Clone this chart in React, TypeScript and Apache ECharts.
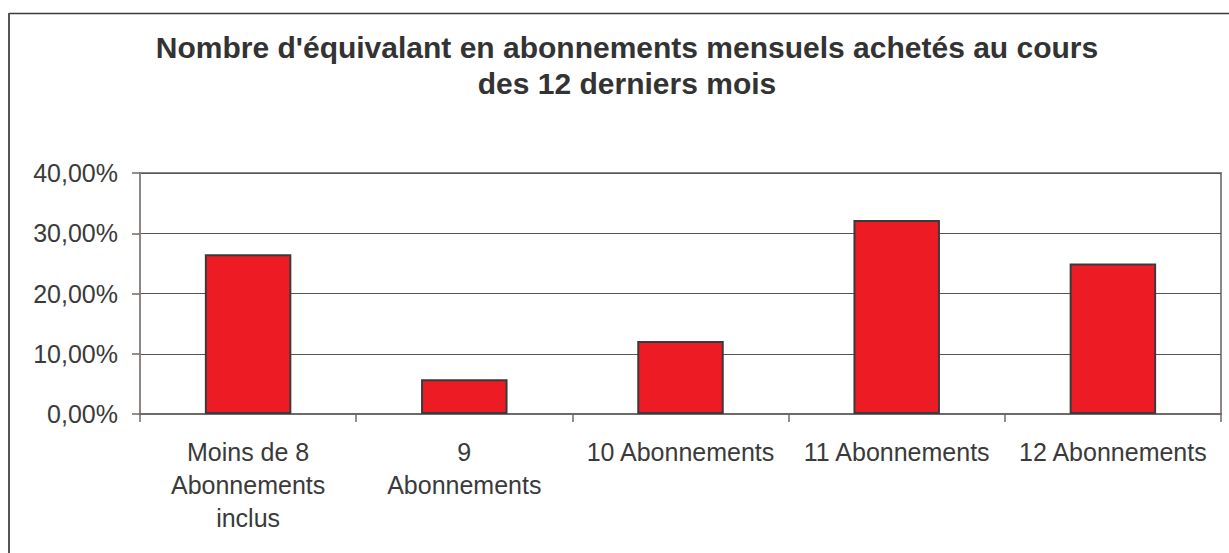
import React, { useEffect, useRef } from "react";
import * as echarts from "echarts";

const titleLines = [
  "Nombre d'équivalant en abonnements mensuels achetés au cours",
  "des 12 derniers mois",
];
const categories = [
  "Moins de 8\nAbonnements\ninclus",
  "9\nAbonnements",
  "10 Abonnements",
  "11 Abonnements",
  "12 Abonnements",
];
const values = [0.265, 0.0575, 0.121, 0.322, 0.25];
const yTicks = { min: 0, max: 0.4, interval: 0.1 };

export default function App() {
  const ref = useRef<HTMLDivElement>(null);
  useEffect(() => {
    if (!ref.current) return;
    const chart = echarts.init(ref.current, null, { renderer: "svg" });
    const textColor = "#3a3a3a";
    chart.setOption({
      animation: false,
      backgroundColor: "#ffffff",
      textStyle: { fontFamily: "Liberation Sans, Arial, sans-serif" },
      title: {
        text: titleLines.join("\n"),
        left: 622,
        top: 24,
        textAlign: "center",
        textStyle: {
          fontSize: 30,
          fontWeight: "bold",
          color: "#333333",
          lineHeight: 36,
          fontFamily: "Liberation Sans, Arial, sans-serif",
        },
      },
      graphic: [
        {
          type: "line",
          shape: { x1: 9, y1: 13.5, x2: 1229, y2: 13.5 },
          style: { stroke: "#3c3c3c", lineWidth: 1.5 },
          silent: true,
        },
        {
          type: "line",
          shape: { x1: 9, y1: 13, x2: 9, y2: 553 },
          style: { stroke: "#555555", lineWidth: 2 },
          silent: true,
        },
      ],
      grid: {
        left: 140,
        right: 8,
        top: 173,
        bottom: 139,
        show: true,
        borderColor: "#8e8682",
        borderWidth: 2,
        backgroundColor: "transparent",
      },
      xAxis: {
        type: "category",
        data: categories,
        axisLine: { lineStyle: { color: "#6e6a68", width: 2 } },
        axisTick: { show: true, length: 8, lineStyle: { color: "#6e6a68", width: 1.5 } },
        axisLabel: {
          color: textColor,
          fontSize: 25,
          lineHeight: 33,
          margin: 21,
          interval: 0,
          fontFamily: "Liberation Sans, Arial, sans-serif",
        },
        splitLine: { show: false },
      },
      yAxis: {
        type: "value",
        min: yTicks.min,
        max: yTicks.max,
        interval: yTicks.interval,
        axisLine: { show: true, lineStyle: { color: "#8e8682", width: 2 } },
        axisTick: { show: true, length: 8, lineStyle: { color: "#6e6a68", width: 1.5 } },
        axisLabel: {
          color: textColor,
          fontSize: 25,
          margin: 22,
          fontFamily: "Liberation Sans, Arial, sans-serif",
          formatter: (v: number) => (v * 100).toFixed(2).replace(".", ",") + "%",
        },
        splitLine: { show: true, lineStyle: { color: "#555555", width: 1 } },
      },
      series: [
        {
          type: "bar",
          data: values,
          barWidth: "40%",
          itemStyle: { color: "#ed1c24", borderColor: "#3a3a3e", borderWidth: 2 },
        },
      ],
    });
    return () => chart.dispose();
  }, []);
  return (
    <div
      ref={ref}
      style={{ position: "fixed", left: 0, top: 0, width: 1229, height: 553, background: "#fff" }}
    />
  );
}
